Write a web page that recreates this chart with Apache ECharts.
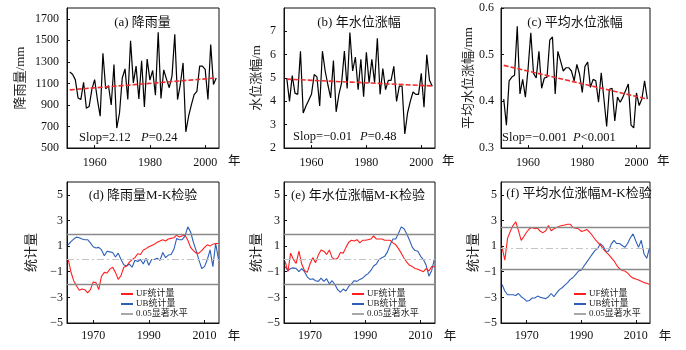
<!DOCTYPE html>
<html><head><meta charset="utf-8">
<script src="https://cdn.jsdelivr.net/npm/echarts@6/dist/echarts.min.js"></script>
<style>html,body{margin:0;padding:0;background:#fff}#c{width:686px;height:350px}</style>
</head><body><div id="c"></div>
<script>
// ---------- data ----------
const yearsTop = [1951,1952,1953,1954,1955,1956,1957,1958,1959,1960,1961,1962,1963,1964,1965,1966,1967,1968,1969,1970,1971,1972,1973,1974,1975,1976,1977,1978,1979,1980,1981,1982,1983,1984,1985,1986,1987,1988,1989,1990,1991,1992,1993,1994,1995,1996,1997,1998,1999,2000,2001,2002,2003,2004];
const yearsMK = [1961,1962,1963,1964,1965,1966,1967,1968,1969,1970,1971,1972,1973,1974,1975,1976,1977,1978,1979,1980,1981,1982,1983,1984,1985,1986,1987,1988,1989,1990,1991,1992,1993,1994,1995,1996,1997,1998,1999,2000,2001,2002,2003,2004,2005,2006,2007,2008,2009,2010,2011,2012,2013,2014,2015];

const rainfall = [1205,1185,1135,965,950,1110,870,885,1045,1135,950,795,1380,1050,1080,900,1275,685,825,1150,1235,950,1495,1105,1260,955,1310,880,1325,1130,1220,990,1575,960,1225,1140,1060,1170,1555,950,1090,1290,650,795,900,995,1025,1260,1260,1230,950,1460,1090,1150];
const waterRise = [5.0,4.0,5.1,4.35,4.3,6.15,3.5,3.8,4.05,4.3,5.15,5.05,3.8,6.15,5.3,4.7,4.15,5.75,3.55,4.3,4.8,6.15,4.55,6.95,5.3,5.9,4.5,5.8,4.2,6.1,4.8,5.8,4.8,6.7,4.3,5.4,4.5,4.9,4.9,5.5,4.0,4.65,4.65,2.6,3.5,4.0,4.4,4.3,4.3,5.2,3.75,6.0,4.9,4.65];
const meanRise = [0.405,0.349,0.444,0.452,0.456,0.561,0.416,0.447,0.409,0.47,0.547,0.46,0.45,0.507,0.428,0.45,0.452,0.531,0.538,0.416,0.507,0.486,0.465,0.472,0.472,0.465,0.444,0.479,0.458,0.419,0.475,0.484,0.43,0.447,0.444,0.398,0.461,0.405,0.346,0.426,0.428,0.358,0.409,0.398,0.409,0.423,0.437,0.349,0.343,0.418,0.391,0.405,0.444,0.405];

const trendYears = [1951, 2004];
const trendRain = [1040, 1150];
const trendRise = [4.95, 4.66];
const trendMean = [0.477, 0.405];

const ufRain = [0,-1.0,-1.7,-2.1,-2.45,-2.35,-2.4,-2.65,-2.4,-1.8,-1.85,-2.4,-1.35,-1.05,-1.1,-0.8,-0.65,-1.05,-1.6,-1.3,-0.65,-0.55,-0.25,-0.05,0.1,0.4,0.35,0.7,0.8,0.95,1.05,1.15,1.3,1.4,1.5,1.4,1.55,1.6,1.65,1.85,1.7,1.8,1.85,1.45,0.9,0.65,0.45,0.45,0.65,0.9,1.1,1.0,1.15,1.2,1.2];
const ubRain = [1.1,1.35,1.55,1.7,1.65,1.55,1.5,1.5,1.25,0.95,0.85,0.9,0.7,0.25,0.6,0.55,0.5,0.15,0.45,-0.05,-0.45,-0.55,-0.4,-0.65,-0.1,-0.2,-0.05,-0.4,0.05,-0.5,-0.05,-0.05,0.05,-0.1,0.5,0.1,0.3,0.35,0.75,1.6,1.5,1.5,1.8,2.5,2.1,1.3,0.65,-0.1,-0.75,-0.6,-0.05,0.7,-0.6,1.2,0.0];
const ufRise = [-0.2,-1.0,0.45,-0.05,-0.35,0.6,-0.4,-0.9,-1.05,-0.4,0.1,-0.3,0.3,0.7,0.6,0.35,0.7,0.1,-0.05,0.05,0.5,0.45,0.9,1.3,1.45,1.4,1.5,1.25,1.45,1.45,1.5,1.55,1.8,1.55,1.55,1.55,1.45,1.45,1.45,1.25,1.1,0.8,0.45,0.05,-0.25,-0.5,-0.6,-0.75,-0.8,-0.9,-1.0,-0.75,-0.95,-0.6,-0.6];
const ubRise = [-0.6,-0.9,-0.75,-0.7,-0.75,-1.0,-0.75,-1.0,-1.4,-1.6,-1.55,-1.7,-1.75,-1.5,-1.75,-1.55,-1.95,-1.7,-2.0,-2.4,-2.6,-2.35,-2.5,-2.15,-1.95,-1.7,-1.75,-1.6,-1.5,-1.3,-1.15,-0.9,-0.55,-0.4,-0.05,0.1,0.2,0.55,1.1,1.55,1.55,2.0,2.5,2.35,1.95,1.45,0.9,0.65,0.6,0.2,-0.05,-0.5,-1.35,-0.9,0.0];
const ufMean = [0.9,-0.1,1.6,2.15,2.6,2.9,2.2,1.45,1.75,2.1,2.35,2.45,2.35,2.4,2.15,2.05,2.2,2.6,2.2,2.35,2.45,2.55,2.6,2.65,2.7,2.7,2.45,2.4,2.35,2.15,2.2,2.3,2.1,1.85,1.55,1.3,1.1,0.8,0.55,0.35,0.1,-0.15,-0.5,-0.75,-0.9,-0.95,-1.1,-1.35,-1.5,-1.57,-1.65,-1.75,-1.85,-1.9,-2.0];
const ubMean = [-2.0,-2.5,-2.8,-2.8,-2.8,-2.85,-2.7,-2.95,-3.1,-3.3,-3.25,-3.05,-3.05,-2.9,-3.0,-3.05,-3.1,-2.95,-2.7,-2.95,-2.65,-2.4,-2.25,-2.05,-1.85,-1.6,-1.45,-1.2,-0.95,-0.88,-0.55,-0.25,0.05,0.35,0.65,0.8,1.2,1.0,0.6,0.6,1.15,1.45,1.2,1.2,1.05,0.9,1.2,1.65,1.95,1.4,0.9,1.45,0.4,0.05,0.85];

// significance level lines [upper, lower] and middle reference line
const sigRain = [1.96, -1.96], midRain = 0;
const sigRise = [1.96, -1.96], midRise = 0;
const sigMean = [2.5, -0.82], midMean = 0.85;

const topTicksX = [1960, 1980, 2000];
const mkTicksX = [1970, 1990, 2010];
const ticksRain = [500, 700, 900, 1100, 1300, 1500, 1700];
const ticksRise = [2, 3, 4, 5, 6, 7];
const ticksMean = [0.3, 0.4, 0.5, 0.6];
const ticksMK = [-5, -3, -1, 1, 3, 5];

const panelTitles = ['(a) 降雨量', '(b) 年水位涨幅', '(c) 平均水位涨幅', '(d) 降雨量M-K检验', '(e) 年水位涨幅M-K检验', '(f) 平均水位涨幅M-K检验'];
const yNames = ['降雨量/mm', '水位涨幅/m', '平均水位涨幅/mm', '统计量', '统计量', '统计量'];
const xUnit = '年';
const slopTexts = ['Slop=2.12', 'Slop=\u22120.01', 'Slop=\u22120.001'];
const pTexts = ['=0.24', '=0.48', '<0.001'];
const legendNames = ['UF统计量', 'UB统计量', '0.05显著水平'];

// ---------- styling ----------
const SERIF = "'Liberation Serif','Noto Sans CJK SC',serif";
const TXT = '#111';
const RED = '#ff1f1f', BLUE = '#2d5fb8', GRAY = '#8a8a8a';
const MK_MIN = 1960.6, MK_MAX = 2015.2;

const grids = [
  {left: 67, top: 8, width: 152, height: 140},
  {left: 284, top: 8, width: 151, height: 140},
  {left: 501, top: 8, width: 149, height: 140},
  {left: 67, top: 182, width: 152, height: 141},
  {left: 284, top: 182, width: 151, height: 141},
  {left: 501, top: 182, width: 149, height: 141}
].map(g => Object.assign({show: true, borderColor: '#111', borderWidth: 1, backgroundColor: 'transparent'}, g));

function xAx(i, top) {
  const tv = top ? topTicksX : mkTicksX;
  // bottom row: the unit "年" is drawn as an extra label at the axis end, shifted right
  const lv = top ? tv : tv.concat([MK_MAX]);
  return {
    type: 'value', gridIndex: i,
    min: top ? 1950 : MK_MIN, max: top ? 2005 : MK_MAX,
    axisLine: {show: true, onZero: false, lineStyle: {color: '#111', width: 1}},
    axisTick: {show: true, inside: true, length: 3, customValues: tv, lineStyle: {color: '#111'}},
    axisLabel: {customValues: lv, margin: top ? 9 : 7, fontSize: 12, fontFamily: SERIF, color: TXT,
      showMaxLabel: true, showMinLabel: true, hideOverlap: false,
      formatter: v => (v === MK_MAX ? '{u|' + xUnit + '}' : String(v)),
      rich: {u: {padding: [0, 0, 0, 30], fontSize: 12.5, fontFamily: SERIF, color: TXT}}},
    splitLine: {show: false}
  };
}
const minus = v => v < 0 ? '\u2212' + Math.abs(v) : String(v);
function yAx(i, min, max, tv, gap, fmt, lblMargin) {
  return {
    type: 'value', gridIndex: i, min: min, max: max,
    name: yNames[i], nameLocation: 'middle', nameGap: gap, nameRotate: 90,
    nameTextStyle: {fontSize: 13, fontFamily: SERIF, color: '#222'},
    axisLine: {show: true, onZero: false, lineStyle: {color: '#111', width: 1}},
    axisTick: {show: true, inside: true, length: 3, customValues: tv, lineStyle: {color: '#111'}},
    axisLabel: {customValues: tv, margin: lblMargin, fontSize: 12, fontFamily: SERIF, color: TXT, formatter: fmt},
    splitLine: {show: false}
  };
}

const xAxis = [xAx(0, true), xAx(1, true), xAx(2, true), xAx(3, false), xAx(4, false), xAx(5, false)];
const yAxis = [
  yAx(0, 500, 1800, ticksRain, 40, v => String(v), 8),
  yAx(1, 2, 8, ticksRise, 21, v => String(v), 8),
  yAx(2, 0.3, 0.6, ticksMean, 26, v => v.toFixed(1), 7),
  yAx(3, -5, 6, ticksMK, 29, minus, 4),
  yAx(4, -5, 6, ticksMK, 21, minus, 4),
  yAx(5, -5, 6, ticksMK, 20, minus, 4)
];

const pair = (xs, ys) => xs.map((x, k) => [x, ys[k]]);
const series = [];
[[rainfall, trendRain], [waterRise, trendRise], [meanRise, trendMean]].forEach(([vals, tr], i) => {
  series.push({type: 'line', name: 'series' + i, xAxisIndex: i, yAxisIndex: i, data: pair(yearsTop, vals),
    symbol: 'none', lineStyle: {color: '#000', width: 1.2}, color: '#000', z: 2});
  series.push({type: 'line', name: 'trend' + i, xAxisIndex: i, yAxisIndex: i, data: pair(trendYears, tr),
    symbol: 'none', lineStyle: {color: '#ee2c2c', width: 1.6, type: [5, 2]}, color: '#ee2c2c', z: 3});
});
[[ufRain, ubRain, sigRain, midRain], [ufRise, ubRise, sigRise, midRise], [ufMean, ubMean, sigMean, midMean]].forEach(([uf, ub, sig, mid], j) => {
  const i = j + 3;
  series.push({type: 'line', name: legendNames[2], xAxisIndex: i, yAxisIndex: i, data: [],
    color: '#a8a8a8', symbol: 'none', lineStyle: {color: '#a8a8a8', width: 2},
    markLine: {silent: true, symbol: ['none', 'none'], label: {show: false}, animation: false,
      lineStyle: {color: GRAY, width: 1.3, type: 'solid'},
      data: [{yAxis: sig[0]}, {yAxis: sig[1]}, {yAxis: mid, lineStyle: {color: '#c4c4c4', width: 1.2, type: [7, 3, 2, 3]}}]}, z: 1});
  series.push({type: 'line', name: legendNames[0], xAxisIndex: i, yAxisIndex: i, data: pair(yearsMK, uf),
    symbol: 'none', color: RED, lineStyle: {color: RED, width: 1.1}, z: 3});
  series.push({type: 'line', name: legendNames[1], xAxisIndex: i, yAxisIndex: i, data: pair(yearsMK, ub),
    symbol: 'none', color: BLUE, lineStyle: {color: BLUE, width: 1.1}, z: 2});
});

const legend = [121, 352, 574].map(l => ({
  left: l, top: 289, orient: 'vertical', icon: 'rect', itemWidth: 12, itemHeight: 2, itemGap: 0,
  selectedMode: false, padding: 0, data: legendNames,
  textStyle: {fontSize: 9, lineHeight: 10, fontFamily: SERIF, color: '#222', padding: [0, 0, 0, -2]}
}));

const graphic = [];
const titlePos = [[142.5, 23], [359, 23], [575, 22.5], [143, 196], [358, 196], [579, 194]];
panelTitles.forEach((t, i) => graphic.push({type: 'text', x: titlePos[i][0], y: titlePos[i][1], z: 10,
  style: {text: t, fill: TXT, fontSize: 13, fontFamily: SERIF, align: 'center', verticalAlign: 'middle'}}));
// unit label after each top-row x axis
[[228, 162], [442, 162], [657, 162]].forEach(p => graphic.push({type: 'text', x: p[0], y: p[1], z: 10,
  style: {text: xUnit, fill: TXT, fontSize: 12.5, fontFamily: SERIF, align: 'left', verticalAlign: 'middle'}}));
const slopPos = [[79, 141, 138], [293, 360, 137], [502, 573, 138]];
slopTexts.forEach((t, i) => {
  graphic.push({type: 'text', x: slopPos[i][0], y: slopPos[i][2], z: 10,
    style: {text: t, fill: TXT, fontSize: 12.5, fontFamily: SERIF, align: 'left', verticalAlign: 'middle'}});
  graphic.push({type: 'text', x: slopPos[i][1], y: slopPos[i][2], z: 10,
    style: {text: '{i|P}{n|' + pTexts[i] + '}', fill: TXT, fontSize: 12.5, fontFamily: SERIF, align: 'left', verticalAlign: 'middle',
      rich: {i: {fontStyle: 'italic', fontSize: 12.5, fontFamily: SERIF, fill: TXT}, n: {fontSize: 12.5, fontFamily: SERIF, fill: TXT}}}});
});

const chart = echarts.init(document.getElementById('c'), null, {renderer: 'canvas'});
chart.setOption({
  animation: false, backgroundColor: '#fff',
  grid: grids, xAxis: xAxis, yAxis: yAxis, series: series, legend: legend,
  graphic: {elements: graphic}
});
</script></body></html>
